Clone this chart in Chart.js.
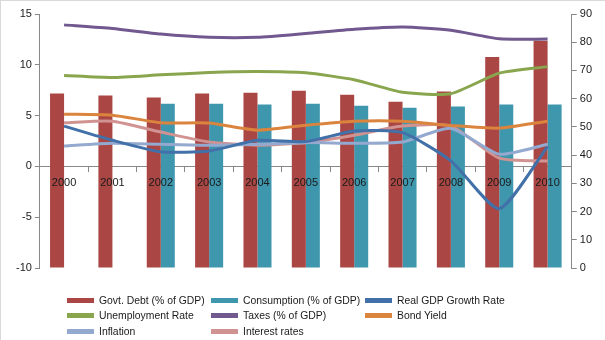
<!DOCTYPE html>
<html>
<head>
<meta charset="utf-8">
<script src="https://cdn.jsdelivr.net/npm/chart.js@4"></script>
<style>
    html, body {
        margin: 0;
        padding: 0;
        background: #fff;
    }
    #wrap {
        position: relative;
        width: 605px;
        height: 340px;
        box-sizing: border-box;
        border-left: 1px solid #d9d9d9;
        border-top: 1px solid #d9d9d9;
        font-family: "Liberation Sans", Arial, sans-serif;
    }
    #chart {
        position: absolute;
        left: -1px;
        top: -1px;
    }
    #legend {
        position: absolute;
        left: 66px;
        top: 292px;
        display: grid;
        grid-template-columns: 144px 154px 160px;
        grid-auto-rows: 15.3px;
        font-size: 10.4px;
        color: #1a1a1a;
    }
    .item {
        display: flex;
        align-items: center;
        white-space: nowrap;
    }
    .swatch {
        width: 27px;
        height: 5px;
        margin-right: 5px;
    }
</style>
</head>
<body>
<div id="wrap">
    <canvas id="chart" width="605" height="340"></canvas>
    <div id="legend"></div>
</div>
<script>
const years = ['2000', '2001', '2002', '2003', '2004', '2005', '2006', '2007', '2008', '2009', '2010'];

// bars, right axis (% of GDP)
const govtDebt = [61.8, 61.1, 60.4, 61.8, 62.1, 62.8, 61.4, 58.9, 62.5, 74.8, 80.5];
const consumption = [null, null, 58.2, 58.2, 57.9, 58.2, 57.5, 56.8, 57.2, 57.9, 57.9];

// lines, left axis
const realGdp = [3.97, 2.57, 1.43, 1.52, 2.57, 2.44, 3.48, 3.32, 0.55, -4.17, 1.95];
const unemployment = [8.95, 8.75, 9.01, 9.24, 9.34, 9.21, 8.53, 7.29, 7.16, 9.18, 9.82];
const taxes = [13.93, 13.57, 13.02, 12.7, 12.7, 13.08, 13.5, 13.73, 13.4, 12.56, 12.53];
const bondYield = [5.14, 5.04, 4.3, 4.27, 3.57, 4.06, 4.45, 4.45, 4.03, 3.77, 4.45];
const inflation = [2.01, 2.28, 2.18, 2.08, 2.18, 2.34, 2.28, 2.4, 3.74, 1.2, 2.18];
const interestRates = [4.3, 4.45, 3.38, 2.4, 2.08, 2.34, 3.06, 3.97, 3.97, 0.81, 0.52];

const leftTicks = [-10, -5, 0, 5, 10, 15];
const rightTicks = [0, 10, 20, 30, 40, 50, 60, 70, 80, 90];

const axisColor = '#888888';
const textColor = '#1a1a1a';
const font = { family: '"Liberation Sans", Arial, sans-serif', size: 11 };

function barSet(label, data, color) {
    return {
        type: 'bar',
        label,
        data,
        backgroundColor: color,
        yAxisID: 'y2',
        order: 2,
        categoryPercentage: 0.58,
        barPercentage: 1,
    };
}

function lineSet(label, data, color) {
    return {
        type: 'line',
        label,
        data,
        borderColor: color,
        backgroundColor: color,
        borderWidth: 3,
        pointRadius: 0,
        tension: 0.2,
        yAxisID: 'y',
        order: 1,
    };
}

const datasets = [
    barSet('Govt. Debt (% of GDP)', govtDebt, '#aa4643'),
    barSet('Consumption (% of GDP)', consumption, '#3f97ae'),
    lineSet('Real GDP Growth Rate', realGdp, '#4270a8'),
    lineSet('Unemployment Rate', unemployment, '#89a54e'),
    lineSet('Taxes (% of GDP)', taxes, '#71588f'),
    lineSet('Bond Yield', bondYield, '#db843d'),
    lineSet('Inflation', inflation, '#93a9cf'),
    lineSet('Interest rates', interestRates, '#d19392'),
];

new Chart(document.getElementById('chart'), {
    type: 'bar',
    data: {
        labels: years,
        datasets,
    },
    options: {
        responsive: false,
        animation: false,
        layout: {
            padding: { left: 13, right: 10, top: 14, bottom: 72 },
        },
        plugins: {
            legend: { display: false },
            tooltip: { enabled: false },
        },
        scales: {
            x: {
                position: { y: 0 },
                grid: {
                    offset: true,
                    drawOnChartArea: false,
                    drawTicks: true,
                    tickLength: 5,
                    color: axisColor,
                },
                border: { color: axisColor, width: 1 },
                ticks: {
                    z: 1,
                    color: textColor,
                    font,
                    padding: 5,
                    maxRotation: 0,
                },
            },
            y: {
                position: 'left',
                min: -10,
                max: 15,
                afterBuildTicks: (axis) => {
                    axis.ticks = leftTicks.map(v => ({ value: v }));
                },
                grid: {
                    drawOnChartArea: false,
                    tickLength: 5,
                    color: axisColor,
                },
                border: { color: axisColor, width: 1 },
                ticks: { color: textColor, font, padding: 3 },
            },
            y2: {
                position: 'right',
                min: 0,
                max: 90,
                afterBuildTicks: (axis) => {
                    axis.ticks = rightTicks.map(v => ({ value: v }));
                },
                grid: {
                    drawOnChartArea: false,
                    tickLength: 5,
                    color: axisColor,
                },
                border: { color: axisColor, width: 1 },
                ticks: { color: textColor, font, padding: 3 },
            },
        },
    },
});

const legend = document.getElementById('legend');
datasets.forEach(ds => {
    const item = document.createElement('div');
    item.className = 'item';
    const swatch = document.createElement('span');
    swatch.className = 'swatch';
    swatch.style.background = ds.backgroundColor;
    const text = document.createElement('span');
    text.textContent = ds.label;
    item.appendChild(swatch);
    item.appendChild(text);
    legend.appendChild(item);
});
</script>
</body>
</html>
